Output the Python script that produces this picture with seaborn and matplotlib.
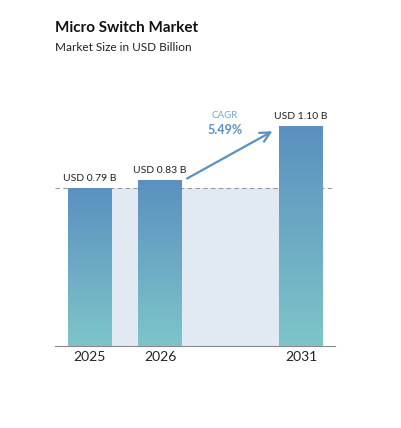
import numpy as np
import matplotlib.pyplot as plt
import seaborn as sns
from matplotlib.patches import Rectangle

years = ["2025", "2026", "2031"]
positions = [0, 1, 3]
values = [0.79, 0.83, 1.10]
labels = ["USD 0.79 B", "USD 0.83 B", "USD 1.10 B"]
cagr = "5.49%"

sns.set_style("white")
plt.rcParams['font.family'] = ['Lato', 'DejaVu Sans']

fig = plt.figure(figsize=(4.01, 4.28), dpi=100)
ax = fig.add_axes([0.137, 0.192, 0.698, 0.584])
ax.set_xlim(-0.49, 3.48)
ax.set_ylim(0, 1.25)

width = 0.61
# light background region between first and last bar
ax.add_patch(Rectangle((positions[0] - width / 2, 0), positions[2] - positions[0], values[0],
                       color="#e1eaf3", zorder=0, lw=0))

sns.barplot(x=positions, y=values, native_scale=True, width=width * 1.5 / 2,
            color="#6a9fc4", ax=ax, zorder=2)

grad = np.linspace(0, 1, 256).reshape(-1, 1)
from matplotlib.colors import LinearSegmentedColormap
cmap = LinearSegmentedColormap.from_list("g", ["#7ec5c9", "#5b90c0"])
for p, v in zip(positions, values):
    rect = Rectangle((p - width / 2, 0), width, v, transform=ax.transData, lw=0)
    im = ax.imshow(grad, cmap=cmap, aspect="auto", origin="lower",
                   extent=(p - width / 2, p + width / 2, 0, v), zorder=3)
    im.set_clip_path(rect)
    ax.text(p, v + 0.025, labels[values.index(v)], ha="center", va="bottom",
            fontsize=7.5, color="#222222", zorder=4)
for patch in ax.patches[1:]:
    patch.set_visible(False)
ax.set_xlim(-0.49, 3.48)
ax.set_ylim(0, 1.25)

ax.axhline(values[0], color="#999999", ls=(0, (4, 3)), lw=0.8, zorder=1)
ax.annotate("", xy=(2.63, 1.08), xytext=(1.35, 0.83),
            arrowprops=dict(arrowstyle="->", color="#5b90c0", lw=1.6, mutation_scale=18), zorder=5)
ax.text(1.92, 1.14, "CAGR", ha="center", fontsize=7, color="#7aa7cc")
ax.text(1.92, 1.06, cagr, ha="center", fontsize=9, color="#5b90c0", fontweight="bold")

ax.set_xticks(positions)
ax.set_xticklabels(years, fontsize=10, color="#222222")
ax.set_yticks([])
ax.tick_params(axis="x", length=0, pad=4)
for s in ["top", "right", "left"]:
    ax.spines[s].set_visible(False)
ax.spines["bottom"].set_color("#888888")
ax.spines["bottom"].set_linewidth(0.8)

fig.text(0.137, 0.925, "Micro Switch Market", fontsize=11, fontweight="bold", color="#111111")
fig.text(0.137, 0.88, "Market Size in USD Billion", fontsize=8.5, color="#222222")

fig.savefig("out.png", dpi=100)
